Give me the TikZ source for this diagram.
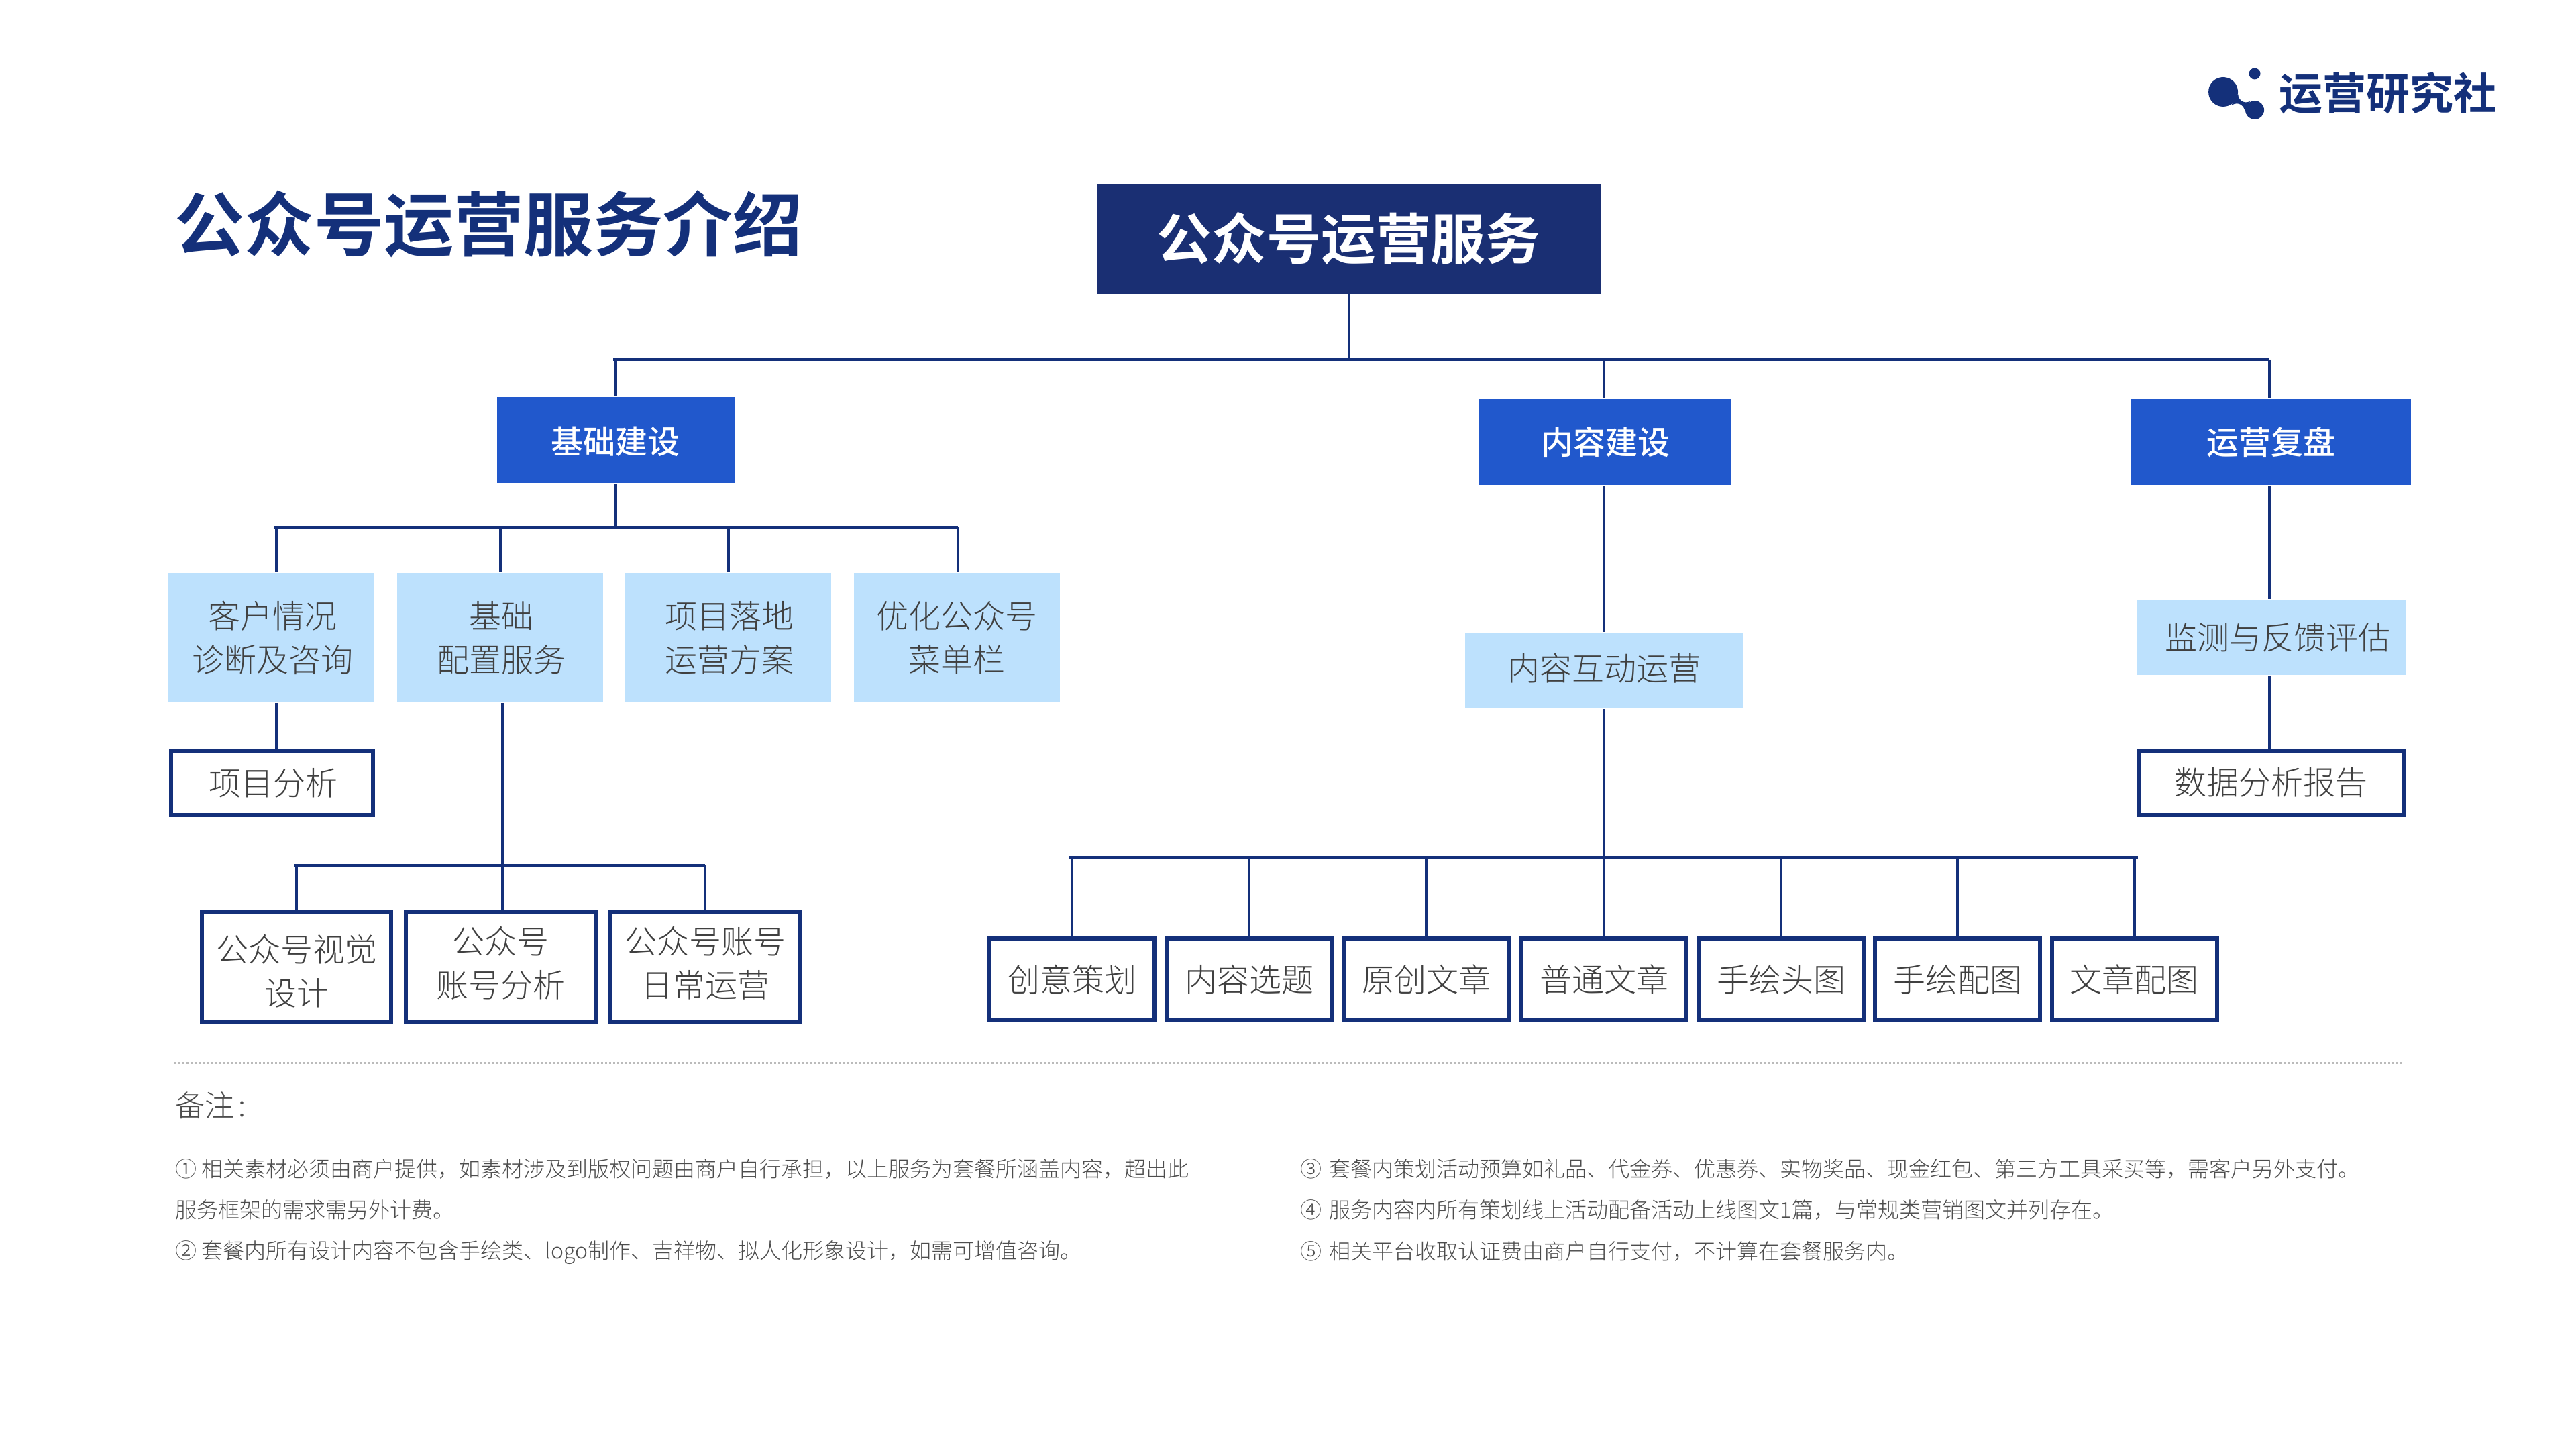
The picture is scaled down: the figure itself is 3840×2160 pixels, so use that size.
\documentclass[tikz,border=0pt]{standalone}
\usepackage{fontspec}
\setmainfont{Noto Sans CJK SC Light}[BoldFont=Noto Sans CJK SC Bold]
\newfontfamily\cjkmedium{Noto Sans CJK SC Medium}
\usetikzlibrary{positioning,calc}
\definecolor{navy}{HTML}{14307A}
\definecolor{rootblue}{HTML}{1A2F73}
\definecolor{midblue}{HTML}{2158CC}
\definecolor{skyblue}{HTML}{BDE1FD}
\definecolor{inkgray}{HTML}{404040}
\definecolor{notegray}{HTML}{4D4D4D}
\definecolor{dotgray}{HTML}{BBBBBB}
\tikzset{
  rootbox/.style={fill=rootblue, text=white, inner sep=0, minimum width=187.75pt, minimum height=41pt,
    font=\fontsize{20.4pt}{24pt}\selectfont\bfseries},
  bluebox/.style={fill=midblue, text=white, inner sep=0, minimum height=32pt,
    font=\cjkmedium\fontsize{12pt}{16pt}\selectfont},
  skybox/.style={fill=skyblue, text=inkgray, inner sep=0, align=center,
    font=\fontsize{12pt}{16.25pt}\selectfont},
  linebox/.style={draw=navy, line width=1.5pt, fill=white, text=inkgray, inner sep=0, align=center,
    font=\fontsize{12pt}{16.25pt}\selectfont},
  notetext/.style={anchor=west, inner sep=0, text=notegray, font=\fontsize{8pt}{10pt}\selectfont},
  link/.style={draw=navy, line width=1pt}
}
% invisible rules that move a text a little inside its box
\newcommand{\pushdown}[1]{\rule{0pt}{#1}}
\newcommand{\pushup}[1]{\rule[-#1]{0pt}{0pt}}
\begin{document}
\begin{tikzpicture}[x=0.25pt, y=-0.25pt]
\useasboundingbox (0,0) rectangle (3840,2160);

% heading and logo
\node (title) [anchor=west, inner sep=0, text=navy, font=\fontsize{26pt}{30pt}\selectfont\bfseries] at (259.5,334) {公众号运营服务介绍};
\fill[navy] (3314,137) circle (22*0.25pt);
\fill[navy] (3361,110) circle (8.5*0.25pt);
\fill[navy] (3361,164) circle (14*0.25pt);
\fill[navy] (3336,140) .. controls (3337,150) and (3345,155) .. (3354,151) -- (3347,167) .. controls (3345,158) and (3338,150) .. (3326,157) -- cycle;
\node (brand) [anchor=west, inner sep=0, text=navy, font=\fontsize{16.25pt}{20pt}\selectfont\bfseries] at (3397,139) {运营研究社};

% upper levels
\node (root) [rootbox] at (2010.5,356) {公众号运营服务};
\node (base) [bluebox, minimum width=88.5pt] at (917.5,656) {\pushdown{11.5pt}基础建设};
\node (content) [bluebox, minimum width=94pt] at (2393,659) {内容建设};
\node (review) [bluebox, minimum width=104.25pt] at (3385.5,659) {运营复盘};

% base column
\node (client) [skybox, minimum width=76.75pt, minimum height=48.25pt] at (404.5,950.5) {\hspace*{1pt}客户情况\\\hspace*{1pt}诊断及咨询};
\node (config) [skybox, minimum width=76.75pt, minimum height=48.25pt] at (745,950.5) {\hspace*{1pt}基础\\\hspace*{1pt}配置服务};
\node (plan) [skybox, minimum width=76.75pt, minimum height=48.25pt] at (1085.5,950.5) {\hspace*{1pt}项目落地\\\hspace*{1pt}运营方案};
\node (menu) [skybox, minimum width=76.75pt, minimum height=48.25pt] at (1426.5,950.5) {优化公众号\\菜单栏};
\node (analysis) [linebox, minimum width=75.25pt, minimum height=24pt] at (405.5,1167) {\hspace*{1pt}项目分析};
\node (visual) [linebox, minimum width=70.6pt, minimum height=41.25pt] at (442,1441.5) {\pushdown{13pt}公众号视觉\\设计};
\node (account) [linebox, minimum width=70.6pt, minimum height=41.25pt] at (746.5,1441.5) {公众号\\账号分析\pushup{3.6pt}};
\node (daily) [linebox, minimum width=70.6pt, minimum height=41.25pt] at (1051.5,1441.5) {公众号账号\\日常运营\pushup{3.6pt}};

% content column
\node (interact) [skybox, minimum width=103.5pt, minimum height=28.25pt] at (2391,999.5) {内容互动运营\pushup{2.4pt}};
\node (idea) [linebox, minimum width=61.5pt, minimum height=30.4pt] at (1598,1460) {创意策划};
\node (topic) [linebox, minimum width=61.5pt, minimum height=30.4pt] at (1862,1460) {内容选题};
\node (origin) [linebox, minimum width=61.5pt, minimum height=30.4pt] at (2126,1460) {原创文章};
\node (normal) [linebox, minimum width=61.5pt, minimum height=30.4pt] at (2391,1460) {普通文章};
\node (avatar) [linebox, minimum width=61.5pt, minimum height=30.4pt] at (2655,1460) {手绘头图};
\node (sketch) [linebox, minimum width=61.5pt, minimum height=30.4pt] at (2918,1460) {手绘配图};
\node (figure) [linebox, minimum width=61.5pt, minimum height=30.4pt] at (3181.5,1460) {文章配图};

% review column
\node (monitor) [skybox, minimum width=100.25pt, minimum height=28pt] at (3385.5,950) {\hspace*{5pt}监测与反馈评估};
\node (report) [linebox, minimum width=98.75pt, minimum height=24pt] at (3385.5,1167) {数据分析报告};

% bus lines
\coordinate (topL) at (914,536);
\coordinate (topR) at (3383,536);
\coordinate (baseL) at (408.5,786);
\coordinate (baseR) at (1428,786);
\coordinate (subL) at (439,1290);
\coordinate (subR) at (1051,1290);
\coordinate (itemL) at (1594,1277.5);
\coordinate (itemR) at (3187,1277.5);

\draw[link] (topL) -- (topR);
\draw[link] (root.south) -- (root.south |- topL);
\draw[link] (917.5,536) -- (base.north);
\draw[link] (content.north -| 2391,0) -- (2391,536);
\draw[link] (topR) -- (topR |- review.north);
\draw[link] (base.south) -- (base.south |- baseL);

\draw[link] (baseL) -- (baseR);
\draw[link] (412,786) -- (412,786 |- client.north);
\draw[link] (746,786) -- (746,786 |- config.north);
\draw[link] (plan.north) -- (plan.north |- baseL);
\draw[link] (baseR) -- (baseR |- menu.north);

\draw[link] (412,786 |- client.south) -- (412,786 |- analysis.north);
\draw[link] (749,786 |- config.south) -- (749,786 |- account.north);
\draw[link] (subL) -- (subR);
\draw[link] (442,1290) -- (442,1290 |- visual.north);
\draw[link] (subR) -- (subR |- daily.north);

\draw[link] (content.south -| 2391,0) -- (interact.north);
\draw[link] (interact.south) -- (normal.north);
\draw[link] (itemL) -- (itemR);
\draw[link] (idea.north) -- (idea.north |- itemL);
\draw[link] (topic.north) -- (topic.north |- itemL);
\draw[link] (origin.north) -- (origin.north |- itemL);
\draw[link] (avatar.north) -- (avatar.north |- itemL);
\draw[link] (sketch.north) -- (sketch.north |- itemL);
\draw[link] (figure.north) -- (figure.north |- itemL);

\draw[link] (3383,0 |- review.south) -- (3383,0 |- monitor.north);
\draw[link] (3383,0 |- monitor.south) -- (3383,0 |- report.north);

% notes
\coordinate (ruleL) at (260,1584);
\coordinate (ruleR) at (3580,1584);
\draw[dotgray, line width=0.75pt, dash pattern=on 0.75pt off 0.75pt] (ruleL) -- (ruleR);
\node (notehead) [anchor=west, inner sep=0, text=notegray, font=\fontsize{11pt}{14pt}\selectfont] at (261,1648) {备注\hspace{1.5pt}:};
\node (note1) [notetext] at (261,1742) {① 相关素材必须由商户提供，如素材涉及到版权问题由商户自行承担，以上服务为套餐所涵盖内容，超出此};
\node (note1b) [notetext] at (261,1803) {服务框架的需求需另外计费。};
\node (note2) [notetext] at (261,1867) {② 套餐内所有设计内容不包含手绘类、logo制作、吉祥物、拟人化形象设计，如需可增值咨询。};
\node (note3) [notetext] at (1938,1742) {③ \hspace{1pt}套餐内策划活动预算如礼品、代金券、优惠券、实物奖品、现金红包、第三方工具采买等，需客户另外支付。};
\node (note4) [notetext] at (1938,1803) {④ \hspace{1pt}服务内容内所有策划线上活动配备活动上线图文1篇，与常规类营销图文并列存在。};
\node (note5) [notetext] at (1938,1865) {⑤ \hspace{1pt}相关平台收取认证费由商户自行支付，不计算在套餐服务内。};
\end{tikzpicture}
\end{document}
